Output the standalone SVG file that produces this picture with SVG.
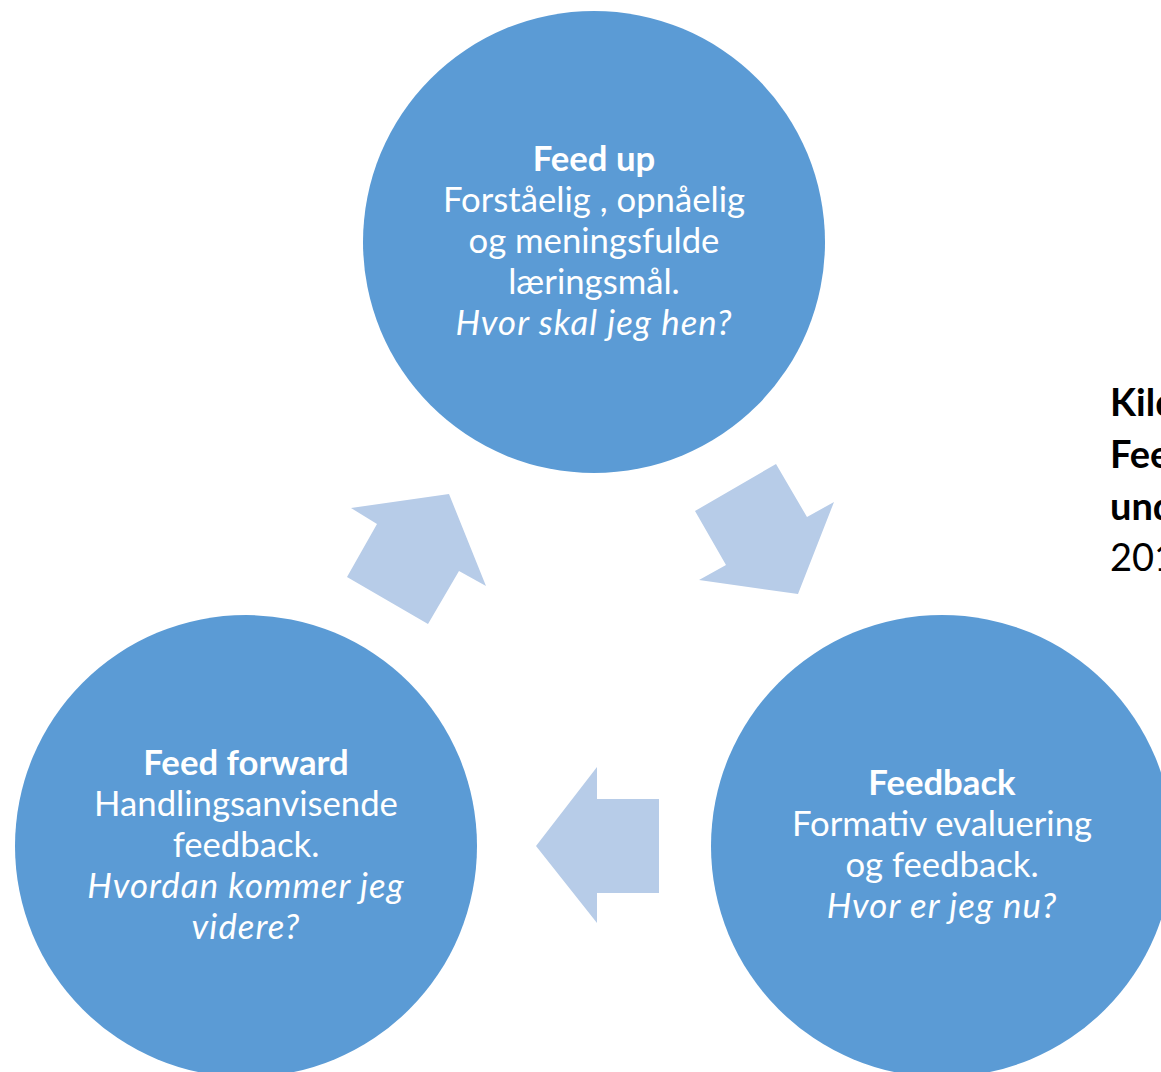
<svg xmlns="http://www.w3.org/2000/svg" width="1161" height="1072" viewBox="0 0 1161 1072">
<style>
.c{fill:#5B9BD5}
.a{fill:#B7CCE8}
.t{font-family:Lato,"Open Sans","Liberation Sans",sans-serif;font-size:34.7px;fill:#FFFFFF;text-anchor:middle}
.b{font-weight:bold}
.i{font-style:italic;letter-spacing:1.1px}
.s{font-family:Lato,"Open Sans","Liberation Sans",sans-serif;font-size:38px;fill:#000000}
</style>
<rect x="0" y="0" width="1161" height="1072" fill="#FFFFFF"/>
<g id="connectors">
<polygon class="a" points="449,494 486,586 459,571 428,624 347,577 377,524 351,508"/>
<polygon class="a" points="695,511 776,464 807,517 834,502 798,594 699,580 726,565"/>
<polygon class="a" points="536,846 597,767 597,799 659,799 659,893 597,893 597,923"/>
</g>
<g id="feed-up">
<circle class="c" cx="594" cy="242" r="231"/>
<text class="t b" x="594" y="171">Feed up</text>
<text class="t" x="594" y="212">Forståelig , opnåelig</text>
<text class="t" x="594" y="253">og meningsfulde</text>
<text class="t" x="594" y="294">læringsmål.</text>
<text class="t i" x="594" y="335">Hvor skal jeg hen?</text>
</g>
<g id="feedback">
<circle class="c" cx="942" cy="846" r="231"/>
<text class="t b" x="942" y="795">Feedback</text>
<text class="t" x="942" y="836">Formativ evaluering</text>
<text class="t" x="942" y="877">og feedback.</text>
<text class="t i" x="942" y="918">Hvor er jeg nu?</text>
</g>
<g id="feed-forward">
<circle class="c" cx="246" cy="846" r="231"/>
<text class="t b" x="246" y="775">Feed forward</text>
<text class="t" x="246" y="816">Handlingsanvisende</text>
<text class="t" x="246" y="857">feedback.</text>
<text class="t i" x="246" y="898">Hvordan kommer jeg</text>
<text class="t i" x="246" y="939">videre?</text>
</g>
<g id="source">
<text class="s b" x="1110" y="416">Kild</text>
<text class="s b" x="1110" y="468">Fee</text>
<text class="s b" x="1110" y="520">und</text>
<text class="s" x="1110" y="571">201</text>
</g>
</svg>
